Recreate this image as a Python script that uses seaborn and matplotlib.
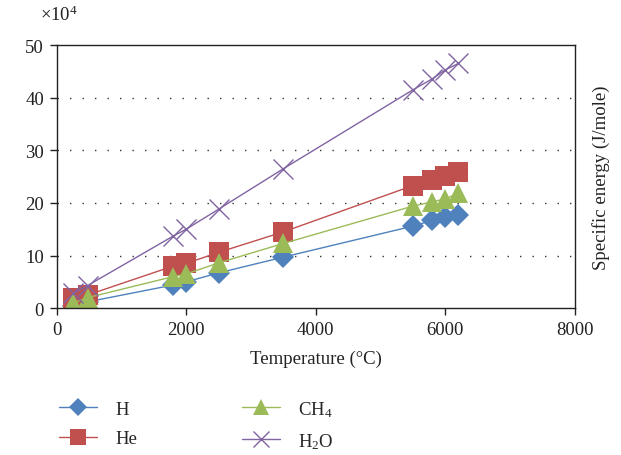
import numpy as np
import pandas as pd
import seaborn as sns
import matplotlib.pyplot as plt

# temperatures (deg C) and specific energy (x1e4 J/mole)
temperature = [260, 480, 1800, 2000, 2500, 3500, 5500, 5800, 6000, 6200]
energy_h = [0.5, 1.2, 4.4, 5.0, 6.7, 9.7, 15.6, 16.7, 17.3, 17.8]
energy_he = [2.0, 2.5, 8.0, 8.5, 10.6, 14.5, 23.3, 24.3, 25.2, 25.9]
energy_ch4 = [1.0, 2.0, 6.0, 6.5, 8.6, 12.3, 19.4, 20.2, 20.8, 21.8]
energy_h2o = [2.8, 4.3, 13.7, 15.0, 18.8, 26.5, 41.5, 43.6, 45.3, 46.5]

species = ['H', 'He', 'CH$_4$', 'H$_2$O']
colors = ['#4F81BD', '#C0504D', '#9BBB59', '#8064A2']
markers = ['D', 's', '^', 'x']
msizes = [11, 14, 14, 14]

sns.set_theme(style='white')
plt.rcParams['font.family'] = ['Liberation Serif', 'DejaVu Serif']
plt.rcParams['mathtext.fontset'] = 'custom'
plt.rcParams['mathtext.rm'] = 'Liberation Serif'
plt.rcParams['mathtext.it'] = 'Liberation Serif:italic'

df = pd.DataFrame({
    'Temperature': temperature * 4,
    'Energy': energy_h + energy_he + energy_ch4 + energy_h2o,
    'Species': np.repeat(species, len(temperature)),
})

fig = plt.figure(figsize=(6.21, 4.56), dpi=100)
ax = fig.add_axes([0.091, 0.322, 0.835, 0.577])

for name, c, m, s in zip(species, colors, markers, msizes):
    sub = df[df['Species'] == name]
    sns.lineplot(data=sub, x='Temperature', y='Energy', ax=ax, color=c,
                 marker=m, markersize=s, markeredgecolor=c,
                 markeredgewidth=1.0 if m == 'x' else 0,
                 linewidth=1.0, label=name, sort=False)

ax.set_xlim(0, 8000)
ax.set_ylim(0, 50)
ax.set_xticks([0, 2000, 4000, 6000, 8000])
ax.set_yticks([0, 10, 20, 30, 40, 50])
for yv in [10, 20, 30, 40]:
    ax.axhline(yv, color='#333333', linestyle=(0, (1, 8)), linewidth=1.0, zorder=0)

for sp in ax.spines.values():
    sp.set_color('#222222')
    sp.set_linewidth(1.0)
ax.tick_params(axis='both', direction='out', length=5, width=1, color='#222222',
               labelsize=13.5, labelcolor='#222222', pad=4)
ax.tick_params(axis='y', left=True, right=False)
ax.tick_params(axis='x', bottom=True, top=False)

ax.set_xlabel('Temperature (°C)', fontsize=13.5, color='#222222', labelpad=9)
ax.yaxis.set_label_position('right')
ax.set_ylabel('Specific energy (J/mole)', fontsize=13.5, color='#222222', labelpad=12)

fig.text(0.065, 0.955, r'$\times 10^4$', fontsize=13.5, color='#222222')

ax.legend_.remove()
handles, labels = ax.get_legend_handles_labels()
fig.legend(handles, labels, loc='upper left', bbox_to_anchor=(0.068, 0.16), ncol=2,
           frameon=False, fontsize=13.5, handlelength=2.0, columnspacing=5.6,
           labelspacing=0.65, handletextpad=1.0, markerscale=0.8,
           bbox_transform=fig.transFigure)

fig.savefig('out.png', dpi=100)
